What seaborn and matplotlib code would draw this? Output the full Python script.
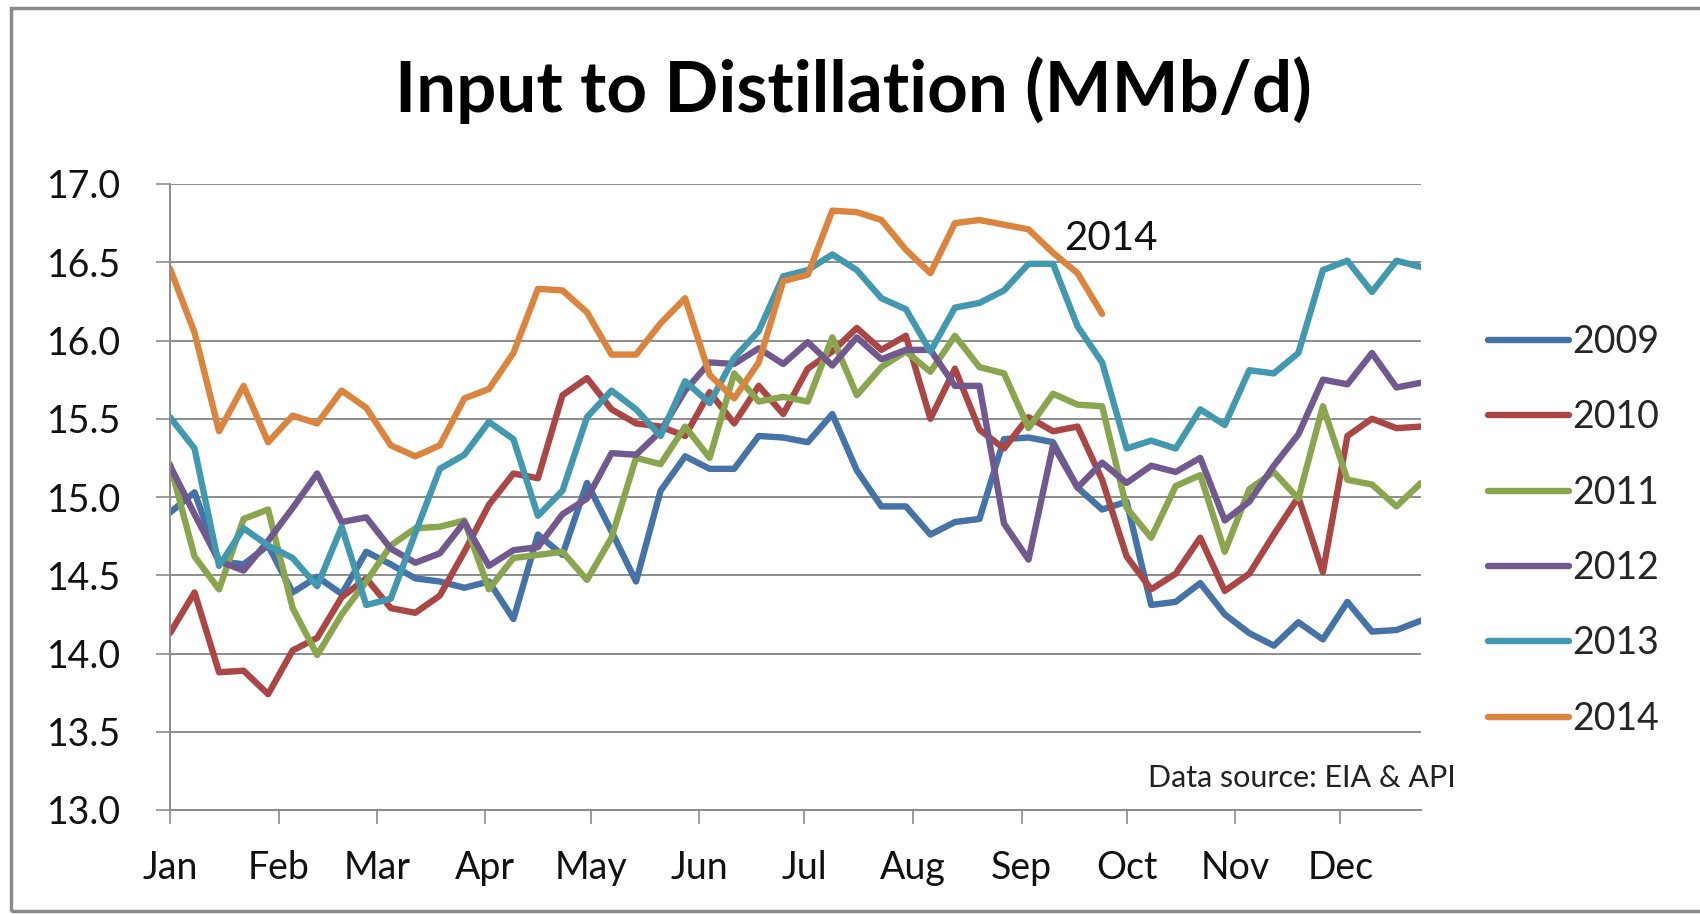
import matplotlib
matplotlib.use("Agg")
import matplotlib.pyplot as plt
import matplotlib.patches as mpatches
import numpy as np
import pandas as pd
import seaborn as sns

# ---------------- data (weekly, MMb/d) ----------------
years = ["2009", "2010", "2011", "2012", "2013", "2014"]

y2009 = [14.90, 15.03, 14.59, 14.57, 14.69, 14.39, 14.49, 14.38, 14.65, 14.57,
         14.48, 14.46, 14.42, 14.46, 14.22, 14.76, 14.63, 15.09, 14.78, 14.46,
         15.04, 15.26, 15.18, 15.18, 15.39, 15.38, 15.35, 15.53, 15.17, 14.94,
         14.94, 14.76, 14.84, 14.86, 15.37, 15.38, 15.35, 15.06, 14.92, 14.97,
         14.31, 14.33, 14.45, 14.25, 14.13, 14.05, 14.20, 14.09, 14.33, 14.14,
         14.15, 14.21]
y2010 = [14.13, 14.39, 13.88, 13.89, 13.74, 14.02, 14.10, 14.36, 14.48, 14.29,
         14.26, 14.37, 14.65, 14.95, 15.15, 15.12, 15.65, 15.76, 15.56, 15.47,
         15.45, 15.39, 15.67, 15.47, 15.71, 15.53, 15.82, 15.93, 16.08, 15.94,
         16.03, 15.50, 15.82, 15.43, 15.31, 15.51, 15.42, 15.45, 15.11, 14.62,
         14.41, 14.51, 14.74, 14.40, 14.51, 14.76, 15.00, 14.52, 15.39, 15.50,
         15.44, 15.45]
y2011 = [15.21, 14.62, 14.41, 14.86, 14.92, 14.29, 13.99, 14.25, 14.46, 14.69,
         14.80, 14.81, 14.85, 14.41, 14.61, 14.63, 14.65, 14.47, 14.74, 15.25,
         15.21, 15.45, 15.25, 15.79, 15.61, 15.64, 15.61, 16.02, 15.65, 15.83,
         15.93, 15.80, 16.03, 15.83, 15.79, 15.44, 15.66, 15.59, 15.58, 14.93,
         14.74, 15.07, 15.14, 14.65, 15.05, 15.16, 14.99, 15.58, 15.11, 15.08,
         14.94, 15.09]
y2012 = [15.20, 14.89, 14.59, 14.53, 14.72, 14.93, 15.15, 14.84, 14.87, 14.67,
         14.58, 14.64, 14.84, 14.56, 14.66, 14.68, 14.89, 14.99, 15.28, 15.27,
         15.42, 15.68, 15.86, 15.85, 15.95, 15.85, 15.99, 15.84, 16.02, 15.88,
         15.94, 15.94, 15.71, 15.71, 14.83, 14.60, 15.33, 15.06, 15.22, 15.09,
         15.20, 15.16, 15.25, 14.85, 14.97, 15.20, 15.40, 15.75, 15.72, 15.92,
         15.70, 15.73]
y2013 = [15.51, 15.31, 14.56, 14.80, 14.69, 14.61, 14.43, 14.81, 14.31, 14.35,
         14.77, 15.18, 15.27, 15.48, 15.37, 14.88, 15.04, 15.51, 15.68, 15.56,
         15.39, 15.74, 15.60, 15.89, 16.06, 16.41, 16.45, 16.55, 16.45, 16.27,
         16.20, 15.93, 16.21, 16.24, 16.32, 16.49, 16.49, 16.09, 15.86, 15.31,
         15.36, 15.31, 15.56, 15.46, 15.81, 15.79, 15.92, 16.45, 16.51, 16.31,
         16.51, 16.47]
y2014 = [16.46, 16.05, 15.42, 15.71, 15.35, 15.52, 15.47, 15.68, 15.57, 15.33,
         15.26, 15.33, 15.63, 15.69, 15.92, 16.33, 16.32, 16.18, 15.91, 15.91,
         16.11, 16.27, 15.78, 15.63, 15.86, 16.38, 16.42, 16.83, 16.82, 16.77,
         16.58, 16.43, 16.75, 16.77, 16.74, 16.71, 16.56, 16.43, 16.17]

series = [y2009, y2010, y2011, y2012, y2013, y2014]

months = ["Jan", "Feb", "Mar", "Apr", "May", "Jun",
          "Jul", "Aug", "Sep", "Oct", "Nov", "Dec"]
month_start_day = [0, 31, 59, 90, 120, 151, 181, 212, 243, 273, 304, 334]
y_ticks = [13.0, 13.5, 14.0, 14.5, 15.0, 15.5, 16.0, 16.5, 17.0]

colors = ["#4572A7", "#AA4643", "#89A54E", "#71588F", "#4198AF", "#DB843D"]

# ---------------- build long table ----------------
rows = []
for yr, vals in zip(years, series):
    for wk, v in enumerate(vals):
        rows.append({"week": wk, "value": v, "year": yr})
df = pd.DataFrame(rows)

# ---------------- plotting ----------------
sns.set_theme(style="white")
plt.rcParams["font.family"] = ["Lato", "DejaVu Sans"]

LW = 4.6

fig = plt.figure(figsize=(17, 9.14), dpi=100)
ax = fig.add_axes([0.1, 1 - 810 / 914, (1421 - 170) / 1700, (810 - 184) / 914])

sns.lineplot(data=df, x="week", y="value", hue="year", hue_order=years,
             palette=colors, ax=ax, legend=True, linewidth=LW)
for line in ax.lines:
    line.set_linewidth(LW)
    line.set_solid_capstyle("round")
    line.set_solid_joinstyle("round")

ax.set_xlim(0, 51)
ax.set_ylim(13, 17)
ax.set_yticks(y_ticks)
ax.set_yticklabels([f"{t:.1f}" for t in y_ticks])
ax.set_xticks([d / 7 for d in month_start_day])
ax.set_xticklabels(months)
ax.set_xlabel("")
ax.set_ylabel("")

grid_c = "#8C8C8C"
ax.yaxis.grid(True, color=grid_c, linewidth=1.4)
ax.xaxis.grid(False)
ax.set_axisbelow(True)
for s in ["top", "right"]:
    ax.spines[s].set_visible(False)
for s in ["left", "bottom"]:
    ax.spines[s].set_color(grid_c)
    ax.spines[s].set_linewidth(1.4)

ax.tick_params(axis="x", direction="out", length=10, width=1.2, color=grid_c,
               labelsize=27, pad=19, labelcolor="#111111", bottom=True)
ax.tick_params(axis="y", direction="out", length=10, width=1.2, color=grid_c,
               labelsize=27, pad=25, labelcolor="#111111", left=True)

# legend at right
handles, labels = ax.get_legend_handles_labels()
leg = ax.legend(handles, labels, loc="upper left",
                bbox_to_anchor=(1488 / 1700, 1 - 324 / 914),
                bbox_transform=fig.transFigure, frameon=False,
                fontsize=27, handlelength=2.16, handletextpad=0.08,
                labelspacing=1.05, borderpad=0, borderaxespad=0)
for line in leg.get_lines():
    line.set_linewidth(LW)
    line.set_solid_capstyle("round")

# annotation for 2014
ax.text(38.37, 16.58, "2014", ha="center", va="baseline", fontsize=29,
        color="#111111")

# title
fig.text(0.502, 1 - 112 / 914, "Input to Distillation (MMb/d)", ha="center",
         va="baseline", fontsize=51, fontweight="bold", color="#000000")

# data source
fig.text(1456 / 1700, 1 - 787 / 914, "Data source: EIA & API", ha="right",
         va="baseline", fontsize=22, color="#222222")

# outer chart frame (extends beyond the right edge)
frame = mpatches.Rectangle((11 / 1700, 1 - 911 / 914), 1.2, (911 - 8) / 914,
                           transform=fig.transFigure, fill=False,
                           edgecolor="#8A8A8A", linewidth=2.5, clip_on=False)
fig.add_artist(frame)

fig.savefig("out.png", dpi=100, facecolor="white")
